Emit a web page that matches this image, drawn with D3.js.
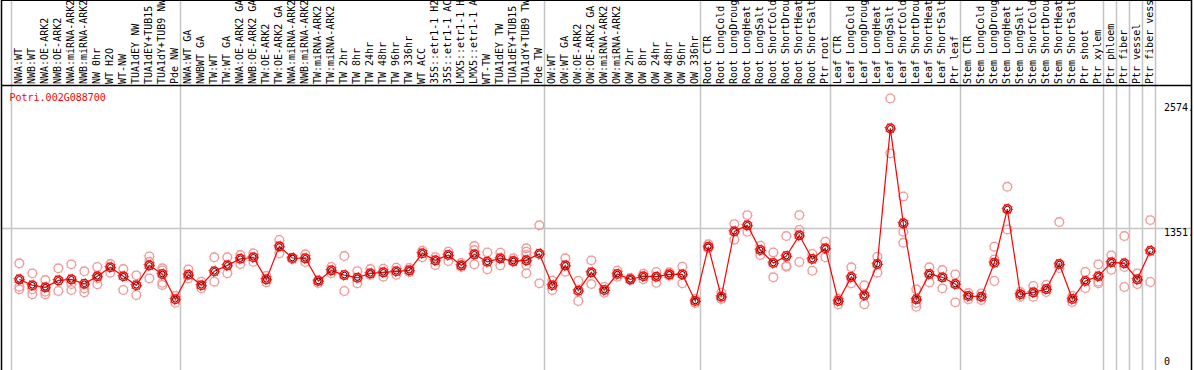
<!DOCTYPE html>
<html>
<head>
<meta charset="utf-8">
<script src="https://cdn.jsdelivr.net/npm/d3@7"></script>
<style>
  html, body { margin: 0; padding: 0; background: #fff; }
  svg { display: block; }
  text { font-family: "DejaVu Sans Mono", monospace; font-size: 10px; }
</style>
</head>
<body>
<svg id="chart" width="1194" height="370"></svg>
<script>
const geneName = "Potri.002G088700";

const categories = [
  "NWA:WT","NWB:WT","NWA:OE-ARK2","NWB:OE-ARK2","NWA:miRNA-ARK2","NWB:miRNA-ARK2","NW 0hr","WT H2O","WT-NW","TUA1dEY NW","TUA1dEY+TUB15","TUA1dY+TUB9 NW","Pde NW",
  "NWA:WT GA","NWBWT GA","TW:WT","TW:WT GA","NWA:OE-ARK2 GA","NWB:OE-ARK2 GA","TW:OE-ARK2","TW:OE-ARK2 GA","NWA:miRNA-ARK2","NWB:miRNA-ARK2","TW:miRNA-ARK2","TW:miRNA-ARK2","TW 2hr","TW 8hr","TW 24hr","TW 48hr","TW 96hr","TW 336hr","WT ACC","35S::etr1-1 H2","35S::etr1-1 AC","LMX5::etr1-1 H","LMX5::etr1-1 A","WT-TW","TUA1dEY TW","TUA1dEY+TUB15","TUA1dY+TUB9 TW","Pde TW",
  "OW:WT","OW:WT GA","OW:OE-ARK2","OW:OE-ARK2 GA","OW:miRNA-ARK2","OW:miRNA-ARK2","OW 2hr","OW 8hr","OW 24hr","OW 48hr","OW 96hr","OW 336hr",
  "Root CTR","Root LongCold","Root LongDroug","Root LongHeat","Root LongSalt","Root ShortCold","Root ShortDrou","Root ShortHeat","Root ShortSalt","Ptr root",
  "Leaf CTR","Leaf LongCold","Leaf LongDroug","Leaf LongHeat","Leaf LongSalt","Leaf ShortCold","Leaf ShortDrou","Leaf ShortHeat","Leaf ShortSalt","Ptr leaf",
  "Stem CTR","Stem LongCold","Stem LongDroug","Stem LongHeat","Stem LongSalt","Stem ShortCold","Stem ShortDrou","Stem ShortHeat","Stem ShortSalt","Ptr shoot","Ptr xylem",
  "Ptr phloem","Ptr fiber","Ptr vessel","Ptr fiber vess"
];

// index at which each group of columns ends
const groupEnds = [0, 13, 41, 53, 63, 73, 84, 85, 86, 87, 88];

const meanValues = [
  848,790,770,838,848,805,878,966,878,790,985,900,653,
  893,790,927,985,1050,1064,848,1171,1057,1054,832,936,890,864,907,917,927,936,1103,1034,1086,985,1093,1020,1054,1027,1034,1099,
  790,985,737,917,744,900,848,878,874,897,897,636,
  1167,678,1318,1377,1135,1008,1076,1279,1047,1152,
  636,871,692,998,2326,1396,653,900,868,802,
  685,678,1011,1536,702,721,753,998,656,832,878,
  1015,1005,848,1128
];

const replicateValues = [
  [1005,776,750],[907,750,702],[841,727,702],[956,734],[995,802,744],[927,760,721],[969,858,799],[998,913],[949,744],[887,695],[1073,1020,858],[956,936,815,793],[685,619],
  [946,858],[825,760],[1064,825],[1064,907],[1086,998],[1103,1020],[881,819],[1233,1103],[1057,1044],[1093,1018],[841,812],[969,907],[1076,734],[929,809],[949,890],[952,874],[962,893],[959,920],[1128,1064],[1066,988],[1118,1027],[1008,969],[1174,1135,995],[1112,946],[1109,985],[1054,1020],[1152,1118,1086,988,907],[1377,809],
  [835,744],[1054,923],[832,636],[1034,802],[773,717],[932,874],[861,841],[903,848],[920,815],[917,884],[972,809],[656,616],
  [1191,1152],[717,656],[1389,1236],[1477,1314],[1177,1086],[1112,868],[1272,981,972],[1477,1331,1018],[1096,932],[1216,1064],
  [658,604],[966,809],[790,604],[1069,913],[2619,2081],[1660,1314,1206],[750,616,580],[966,819],[939,760],[897,623],
  [714,653],[711,646],[1167,1044,832],[1754,1337],[724,678],[783,678],[793,724],[1409,959],[685,626],[920,763],[995,825,809],
  [1083,942],[1272,969,773],[907,802],[1428,822]
];

const yTicks = [2574, 1351, 0];

const W = 1194, H = 370;
const svg = d3.select("#chart");

const x = d3.scaleBand()
  .domain(d3.range(categories.length))
  .range([11, 1155])
  .paddingInner(0).paddingOuter(0);
const bw = x.bandwidth();
const px = i => x(i) + bw * 0.64;

const y = d3.scaleLinear().domain([0, 2574]).range([366, 103]);

const grid = "#c4c4c4";

// horizontal grid line at middle tick
svg.append("line")
  .attr("x1", 1).attr("x2", 1192)
  .attr("y1", Math.round(y(1351)) + 0.5).attr("y2", Math.round(y(1351)) + 0.5)
  .attr("stroke", grid).attr("stroke-width", 1.5);

// group separators
svg.selectAll("line.sep").data(groupEnds).enter().append("line")
  .attr("class", "sep")
  .attr("x1", d => Math.round(d === 88 ? 1155 : x(d)) + 0.5)
  .attr("x2", d => Math.round(d === 88 ? 1155 : x(d)) + 0.5)
  .attr("y1", 0).attr("y2", H)
  .attr("stroke", grid).attr("stroke-width", 1.5);

// borders
svg.append("line").attr("x1", 1.5).attr("x2", 1.5).attr("y1", 0).attr("y2", H).attr("stroke", "#000").attr("stroke-width", 1.5);
svg.append("line").attr("x1", 1191.5).attr("x2", 1191.5).attr("y1", 0).attr("y2", H).attr("stroke", "#000").attr("stroke-width", 1.5);
svg.append("line").attr("x1", 1).attr("x2", 1192).attr("y1", 85.5).attr("y2", 85.5).attr("stroke", "#000").attr("stroke-width", 1.5);
svg.append("line").attr("x1", 1).attr("x2", 1192).attr("y1", 0.5).attr("y2", 0.5).attr("stroke", "#000").attr("stroke-width", 1);

// column labels (rotated)
svg.selectAll("text.cat").data(categories).enter().append("text")
  .attr("class", "cat")
  .attr("transform", (d, i) => `translate(${x(i) + 10.6},84) rotate(-90)`)
  .attr("fill", "#000")
  .text(d => d);

// title
svg.append("text").attr("x", 9.5).attr("y", 101).attr("fill", "#f00").text(geneName);

// right axis labels
svg.selectAll("text.tick").data(yTicks).enter().append("text")
  .attr("class", "tick")
  .attr("x", 1164)
  .attr("y", d => d === 0 ? y(d) - 1 : y(d) + 8)
  .attr("fill", "#000")
  .text(d => d === 0 ? "0" : d + ".");

// replicates
const reps = [];
replicateValues.forEach((arr, i) => arr.forEach(v => reps.push({ i, v })));
const repG = svg.append("g");
repG.selectAll("circle.rep").data(reps).enter().append("circle")
  .attr("cx", d => px(d.i)).attr("cy", d => y(d.v)).attr("r", 4.3)
  .attr("fill", "none").attr("stroke", "#ec9a9a").attr("stroke-width", 1.3);
repG.selectAll("circle.rep2").data(reps).enter().append("circle")
  .attr("cx", d => px(d.i)).attr("cy", d => y(d.v)).attr("r", 5.3)
  .attr("fill", "none").attr("stroke", "#f2b8b8").attr("stroke-width", 1)
  .attr("stroke-dasharray", "1 3.16");

// mean line
const line = d3.line().x((d, i) => px(i)).y(d => y(d));
svg.append("path").datum(meanValues)
  .attr("d", line).attr("fill", "none").attr("stroke", "#f00").attr("stroke-width", 1.2);

// mean markers
const mG = svg.append("g");
mG.selectAll("circle.m1").data(meanValues).enter().append("circle")
  .attr("cx", (d, i) => px(i)).attr("cy", d => y(d)).attr("r", 5.3)
  .attr("fill", "none").attr("stroke", "#f00").attr("stroke-width", 1)
  .attr("stroke-dasharray", "1 3.16");
mG.selectAll("circle.m2").data(meanValues).enter().append("circle")
  .attr("cx", (d, i) => px(i)).attr("cy", d => y(d)).attr("r", 4.3)
  .attr("fill", "none").attr("stroke", "#f00").attr("stroke-width", 1.5);
mG.selectAll("circle.m3").data(meanValues).enter().append("circle")
  .attr("cx", (d, i) => px(i)).attr("cy", d => y(d)).attr("r", 2.8)
  .attr("fill", "none").attr("stroke", "#300").attr("stroke-width", 1);
</script>
</body>
</html>
